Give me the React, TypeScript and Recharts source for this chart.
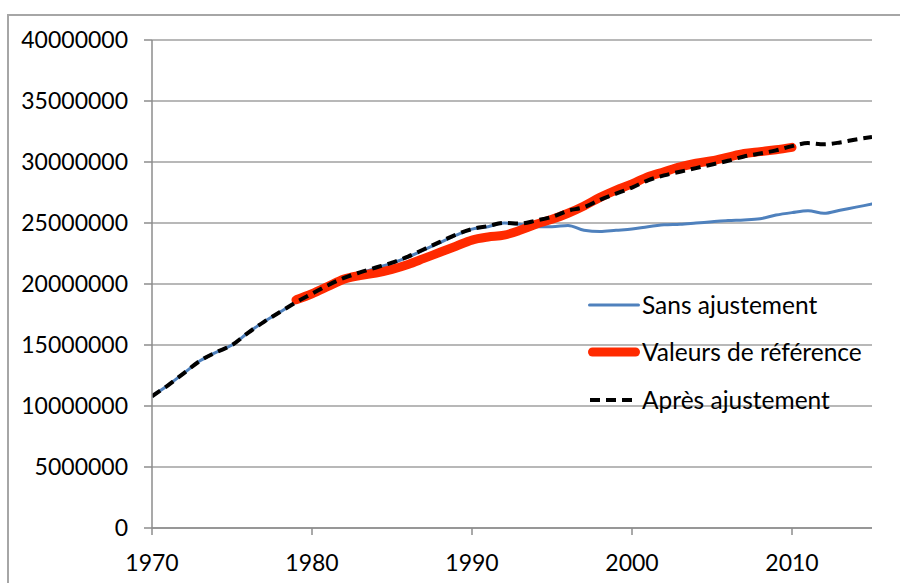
import React from "react";
import { LineChart, Line, XAxis, YAxis, CartesianGrid, Legend } from "recharts";

const years = [
  1970, 1971, 1972, 1973, 1974, 1975, 1976, 1977, 1978, 1979,
  1980, 1981, 1982, 1983, 1984, 1985, 1986, 1987, 1988, 1989,
  1990, 1991, 1992, 1993, 1994, 1995, 1996, 1997, 1998, 1999,
  2000, 2001, 2002, 2003, 2004, 2005, 2006, 2007, 2008, 2009,
  2010, 2011, 2012, 2013, 2014, 2015,
];

// millions
const sansAjustement = [
  10.8, 11.7, 12.7, 13.7, 14.4, 15.0, 16.0, 16.9, 17.7, 18.5,
  19.2, 19.9, 20.5, 20.9, 21.3, 21.7, 22.2, 22.8, 23.4, 24.0,
  24.5, 24.7, 25.0, 24.9, 24.7, 24.7, 24.8, 24.4, 24.3, 24.4,
  24.5, 24.7, 24.85, 24.9, 25.0, 25.1, 25.2, 25.25, 25.35, 25.65,
  25.85, 26.0, 25.8, 26.05, 26.3, 26.55,
];

const refStartYear = 1979;
const valeursReference = [
  18.7, 19.2, 19.8, 20.4, 20.7, 20.9, 21.2, 21.6, 22.1, 22.6,
  23.1, 23.6, 23.85, 24.0, 24.4, 24.9, 25.3, 25.8, 26.4, 27.1,
  27.7, 28.2, 28.8, 29.2, 29.6, 29.9, 30.1, 30.4, 30.7, 30.85,
  31.0, 31.2,
];

const apresAjustement = [
  10.8, 11.7, 12.7, 13.7, 14.4, 15.0, 16.0, 16.9, 17.7, 18.5,
  19.2, 19.9, 20.5, 20.95, 21.35, 21.75, 22.25, 22.85, 23.45, 24.05,
  24.5, 24.75, 25.0, 24.95, 25.2, 25.5, 26.0, 26.3, 26.9, 27.4,
  27.9, 28.5, 28.9, 29.2, 29.5, 29.8, 30.1, 30.45, 30.7, 30.95,
  31.3, 31.55, 31.45, 31.6, 31.85, 32.05,
];

const xTicks = [1970, 1980, 1990, 2000, 2010];
const yTicks = [0, 5000000, 10000000, 15000000, 20000000, 25000000, 30000000, 35000000, 40000000];

const series = [
  { key: "sans", name: "Sans ajustement", color: "#4F81BD", width: 3, dash: undefined as string | undefined },
  { key: "ref", name: "Valeurs de référence", color: "#FF2A00", width: 9, dash: undefined as string | undefined },
  { key: "apres", name: "Après ajustement", color: "#000000", width: 4, dash: "10 6" },
];

const data = years.map((y, i) => {
  const ri = y - refStartYear;
  return {
    year: y,
    sans: sansAjustement[i] * 1e6,
    ref: ri >= 0 && ri < valeursReference.length ? valeursReference[ri] * 1e6 : null,
    apres: apresAjustement[i] * 1e6,
  };
});

const FONT = "Lato, 'Open Sans', sans-serif";

const LegendContent = () => (
  <div style={{ fontFamily: FONT, fontSize: 24.5, color: "#000", lineHeight: 1 }}>
    {series.map((s) => (
      <div key={s.key} style={{ display: "flex", alignItems: "center", height: 47.5 }}>
        <svg width={54} height={12} style={{ marginRight: 1 }}>
          <line
            x1={s.width / 2 + 1}
            y1={6}
            x2={54 - s.width / 2 - 1}
            y2={6}
            stroke={s.color}
            strokeWidth={s.width}
            strokeLinecap={s.dash ? "butt" : "round"}
            strokeDasharray={s.dash}
          />
        </svg>
        <span>{s.name}</span>
      </div>
    ))}
  </div>
);

export default function App() {
  return (
    <div style={{ position: "absolute", left: 0, top: 0, width: 900, height: 583, overflow: "hidden", background: "#fff" }}>
      <div
        style={{
          position: "absolute",
          left: 7,
          top: 14,
          width: 1000,
          height: 700,
          border: "2px solid #a6a6a6",
          boxSizing: "border-box",
        }}
      />
      <div style={{ position: "absolute", left: 0, top: 0 }}>
        <LineChart width={900} height={583} data={data} margin={{ top: 40, right: 28, left: 12, bottom: 15 }}>
          <CartesianGrid horizontal vertical={false} stroke="#a0a0a0" strokeWidth={1.5} />
          <XAxis
            dataKey="year"
            type="number"
            domain={[1970, 2015]}
            ticks={xTicks}
            allowDataOverflow
            height={40}
            stroke="#8c8c8c"
            strokeWidth={1.5}
            tickSize={7}
            tickMargin={20}
            tick={{ fill: "#000", fontSize: 23, fontFamily: FONT }}
          />
          <YAxis
            type="number"
            domain={[0, 40000000]}
            ticks={yTicks}
            width={140}
            stroke="#8c8c8c"
            strokeWidth={1.5}
            tickSize={8}
            tickMargin={16}
            interval={0}
            tick={{ fill: "#000", fontSize: 23, fontFamily: FONT }}
          />
          <Legend
            layout="vertical"
            verticalAlign="middle"
            align="center"
            content={<LegendContent />}
            wrapperStyle={{ left: 587, top: 281, width: 300 }}
          />
          {series.map((s) => (
            <Line
              key={s.key}
              type="monotone"
              dataKey={s.key}
              name={s.name}
              stroke={s.color}
              strokeWidth={s.width}
              strokeDasharray={s.dash}
              strokeLinecap={s.dash ? "butt" : "round"}
              dot={false}
              activeDot={false}
              connectNulls={false}
              isAnimationActive={false}
            />
          ))}
        </LineChart>
      </div>
    </div>
  );
}
